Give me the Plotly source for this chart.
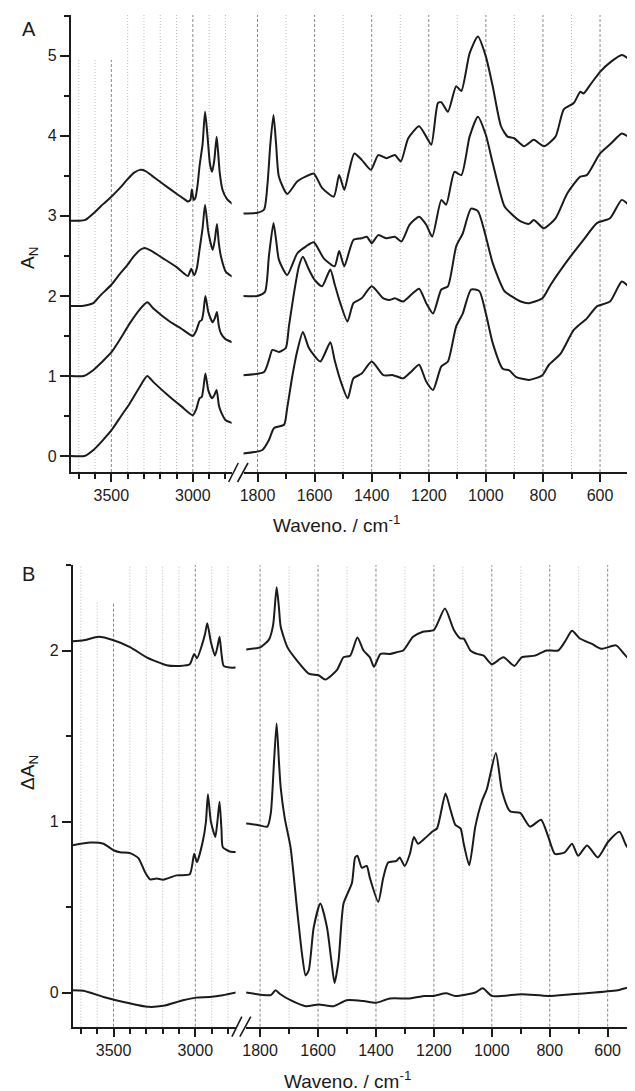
import plotly.graph_objects as go

# ---------------- DATA ----------------
# Panel A, high-wavenumber segment
A1_L_WN = [3750, 3700, 3660, 3600, 3549, 3500, 3447, 3400, 3360, 3325, 3290, 3250, 3203, 3150, 3102, 3060, 3030, 3015, 3006, 2995, 2985, 2970, 2959, 2940, 2925, 2910, 2895, 2882, 2868, 2854, 2845, 2835, 2817, 2790, 2757]
A1_L = [2.94, 2.94, 2.95, 3.05, 3.15, 3.24, 3.35, 3.46, 3.54, 3.575, 3.56, 3.50, 3.43, 3.35, 3.28, 3.22, 3.18, 3.20, 3.33, 3.20, 3.22, 3.40, 3.62, 3.90, 4.30, 4.00, 3.65, 3.55, 3.70, 3.99, 3.80, 3.54, 3.32, 3.21, 3.15]

A2_L_WN = [3750, 3680, 3640, 3610, 3570, 3500, 3450, 3408, 3360, 3320, 3295, 3260, 3183, 3100, 3030, 3010, 2992, 2975, 2959, 2940, 2925, 2905, 2878, 2865, 2852, 2840, 2827, 2797, 2757]
A2_L = [1.875, 1.875, 1.89, 1.91, 2.00, 2.14, 2.27, 2.37, 2.50, 2.58, 2.60, 2.57, 2.47, 2.36, 2.25, 2.34, 2.26, 2.35, 2.575, 2.85, 3.14, 2.80, 2.575, 2.70, 2.90, 2.65, 2.49, 2.30, 2.24]

A3_L_WN = [3750, 3670, 3610, 3560, 3498, 3440, 3386, 3330, 3280, 3240, 3142, 3070, 3000, 2980, 2959, 2945, 2935, 2923, 2905, 2878, 2865, 2852, 2840, 2827, 2800, 2757]
A3_L = [1.00, 1.00, 1.075, 1.17, 1.30, 1.48, 1.66, 1.82, 1.92, 1.84, 1.68, 1.59, 1.50, 1.56, 1.68, 1.70, 1.80, 2.00, 1.80, 1.67, 1.72, 1.80, 1.62, 1.53, 1.46, 1.42]

A4_L_WN = [3750, 3665, 3610, 3560, 3498, 3440, 3386, 3330, 3280, 3240, 3142, 3070, 3000, 2980, 2959, 2945, 2935, 2923, 2905, 2882, 2868, 2854, 2840, 2827, 2800, 2757]
A4_L = [0.00, 0.00, 0.075, 0.18, 0.325, 0.50, 0.66, 0.85, 1.00, 0.92, 0.74, 0.62, 0.51, 0.58, 0.72, 0.74, 0.85, 1.03, 0.82, 0.72, 0.76, 0.825, 0.63, 0.55, 0.45, 0.41]

# Panel A, fingerprint segment
A1_R_WN = [1852, 1800, 1777, 1765, 1755, 1744, 1735, 1725, 1696, 1661, 1632, 1603, 1574, 1533, 1514, 1496, 1480, 1461, 1435, 1403, 1377, 1348, 1319, 1298, 1272, 1234, 1209, 1191, 1168, 1156, 1133, 1104, 1086, 1057, 1028, 1000, 976, 947, 924, 901, 866, 832, 797, 756, 727, 692, 669, 658, 634, 600, 560, 524, 507, 501]
A1_R = [3.03, 3.04, 3.08, 3.40, 3.90, 4.26, 3.90, 3.49, 3.275, 3.43, 3.49, 3.53, 3.35, 3.24, 3.51, 3.325, 3.55, 3.78, 3.70, 3.575, 3.76, 3.72, 3.76, 3.68, 3.97, 4.12, 3.99, 3.89, 4.41, 4.42, 4.30, 4.62, 4.56, 5.03, 5.24, 4.99, 4.62, 4.12, 3.99, 3.97, 3.87, 3.95, 3.87, 3.99, 4.33, 4.41, 4.55, 4.53, 4.64, 4.80, 4.93, 5.01, 4.98, 4.96]

A2_R_WN = [1852, 1800, 1774, 1760, 1744, 1735, 1725, 1696, 1661, 1630, 1603, 1568, 1530, 1514, 1496, 1464, 1435, 1417, 1400, 1377, 1348, 1319, 1296, 1267, 1234, 1209, 1188, 1156, 1139, 1110, 1086, 1057, 1028, 1000, 976, 935, 912, 878, 849, 832, 797, 756, 715, 669, 646, 600, 560, 524, 501]
A2_R = [2.00, 2.00, 2.05, 2.50, 2.91, 2.70, 2.45, 2.26, 2.53, 2.62, 2.67, 2.47, 2.37, 2.56, 2.37, 2.70, 2.72, 2.74, 2.66, 2.76, 2.72, 2.74, 2.68, 2.89, 2.99, 2.89, 2.74, 3.20, 3.14, 3.55, 3.51, 3.99, 4.24, 4.01, 3.66, 3.12, 3.03, 2.93, 2.90, 2.95, 2.845, 2.97, 3.28, 3.49, 3.51, 3.78, 3.91, 4.03, 3.99]

A3_R_WN = [1852, 1777, 1760, 1748, 1725, 1701, 1690, 1672, 1655, 1641, 1620, 1600, 1574, 1545, 1530, 1510, 1485, 1464, 1435, 1400, 1359, 1336, 1319, 1290, 1260, 1234, 1209, 1185, 1156, 1133, 1104, 1081, 1052, 1028, 1000, 976, 935, 912, 878, 849, 802, 773, 704, 658, 611, 565, 524, 501]
A3_R = [1.01, 1.05, 1.20, 1.325, 1.30, 1.35, 1.62, 2.04, 2.37, 2.49, 2.33, 2.20, 2.12, 2.33, 2.15, 1.91, 1.68, 1.91, 1.97, 2.12, 1.97, 1.95, 1.97, 1.93, 2.02, 2.09, 1.91, 1.78, 2.08, 2.12, 2.62, 2.78, 3.09, 3.06, 2.74, 2.41, 2.06, 2.00, 1.93, 1.91, 1.97, 2.14, 2.49, 2.70, 2.91, 2.97, 3.20, 3.14]

A4_R_WN = [1852, 1783, 1760, 1742, 1707, 1696, 1678, 1661, 1641, 1620, 1580, 1545, 1530, 1510, 1484, 1464, 1435, 1400, 1359, 1325, 1290, 1260, 1234, 1209, 1185, 1156, 1133, 1104, 1081, 1052, 1023, 1000, 976, 941, 918, 895, 849, 802, 779, 738, 692, 646, 611, 565, 524, 501]
A4_R = [0.03, 0.075, 0.20, 0.35, 0.39, 0.60, 1.00, 1.31, 1.55, 1.35, 1.18, 1.42, 1.20, 0.95, 0.72, 0.97, 1.03, 1.18, 1.01, 1.01, 0.97, 1.06, 1.14, 0.93, 0.825, 1.12, 1.18, 1.62, 1.78, 2.08, 2.06, 1.78, 1.41, 1.09, 1.07, 0.99, 0.95, 1.01, 1.14, 1.28, 1.575, 1.72, 1.87, 1.93, 2.18, 2.12]

# Panel B, high-wavenumber segment
B1_L_WN = [3750, 3682, 3591, 3500, 3399, 3298, 3176, 3095, 3034, 3007, 2990, 2957, 2940, 2927, 2905, 2880, 2865, 2852, 2840, 2827, 2790, 2751]
B1_L = [2.054, 2.06, 2.08, 2.06, 2.02, 1.96, 1.914, 1.91, 1.92, 1.98, 1.955, 2.04, 2.10, 2.16, 2.05, 1.97, 2.02, 2.08, 1.98, 1.91, 1.90, 1.90]

B2_L_WN = [3750, 3642, 3561, 3500, 3460, 3399, 3348, 3308, 3277, 3237, 3196, 3115, 3034, 3007, 2990, 2953, 2935, 2923, 2905, 2878, 2865, 2852, 2840, 2832, 2790, 2751]
B2_L = [0.861, 0.877, 0.87, 0.832, 0.82, 0.815, 0.786, 0.705, 0.662, 0.666, 0.66, 0.685, 0.691, 0.811, 0.762, 0.89, 1.00, 1.16, 1.00, 0.91, 1.00, 1.115, 0.95, 0.85, 0.825, 0.822]

B3_L_WN = [3750, 3683, 3561, 3439, 3287, 3196, 3075, 2994, 2913, 2832, 2751]
B3_L = [0.013, 0.01, -0.026, -0.055, -0.084, -0.078, -0.045, -0.03, -0.026, -0.016, 0.0]

# Panel B, fingerprint segment
B1_R_WN = [1849, 1798, 1769, 1755, 1743, 1735, 1729, 1706, 1672, 1632, 1598, 1575, 1535, 1512, 1489, 1464, 1443, 1421, 1407, 1384, 1352, 1329, 1306, 1272, 1238, 1200, 1162, 1131, 1108, 1097, 1074, 1051, 1028, 1000, 960, 922, 897, 851, 811, 771, 748, 723, 696, 656, 622, 571, 548, 525, 502]
B1_R = [2.006, 2.02, 2.065, 2.15, 2.37, 2.25, 2.14, 2.02, 1.94, 1.865, 1.855, 1.83, 1.885, 1.96, 1.97, 2.076, 2.00, 1.96, 1.905, 1.98, 1.98, 1.99, 2.00, 2.08, 2.11, 2.12, 2.245, 2.12, 2.07, 2.07, 2.00, 1.98, 1.97, 1.92, 1.96, 1.91, 1.96, 1.97, 2.00, 2.00, 2.05, 2.115, 2.07, 2.04, 2.01, 2.03, 1.99, 1.95, 1.97]

B2_R_WN = [1849, 1809, 1775, 1763, 1752, 1743, 1735, 1729, 1715, 1695, 1672, 1655, 1643, 1632, 1615, 1592, 1569, 1555, 1543, 1529, 1512, 1483, 1472, 1464, 1449, 1432, 1421, 1392, 1375, 1358, 1329, 1318, 1301, 1283, 1269, 1255, 1232, 1206, 1189, 1160, 1143, 1126, 1108, 1097, 1078, 1057, 1034, 1017, 986, 965, 937, 902, 868, 830, 805, 782, 748, 723, 702, 671, 634, 599, 559, 536, 519, 502]
B2_R = [0.988, 0.98, 0.97, 1.05, 1.35, 1.573, 1.35, 1.20, 1.02, 0.85, 0.48, 0.22, 0.10, 0.13, 0.38, 0.52, 0.38, 0.20, 0.056, 0.19, 0.52, 0.64, 0.79, 0.80, 0.73, 0.74, 0.67, 0.53, 0.67, 0.76, 0.77, 0.79, 0.74, 0.81, 0.91, 0.87, 0.90, 0.94, 0.96, 1.164, 1.07, 0.98, 0.96, 0.87, 0.744, 0.97, 1.12, 1.19, 1.40, 1.18, 1.06, 1.05, 0.97, 1.01, 0.91, 0.81, 0.82, 0.87, 0.80, 0.86, 0.79, 0.88, 0.94, 0.86, 0.83, 0.84]

B3_R_WN = [1849, 1763, 1747, 1730, 1695, 1643, 1598, 1546, 1501, 1443, 1400, 1352, 1283, 1232, 1200, 1158, 1126, 1057, 1031, 1000, 897, 805, 725, 645, 560, 525, 508]
B3_R = [0.0, -0.015, 0.013, -0.01, -0.045, -0.08, -0.07, -0.08, -0.045, -0.05, -0.06, -0.035, -0.035, -0.02, -0.02, -0.005, -0.02, 0.0, 0.025, -0.02, -0.01, -0.02, -0.01, 0.0, 0.015, 0.03, -0.005]

# Tick / grid positions
LEFT_MAJOR = [3500, 3000]
RIGHT_MAJOR = [1800, 1600, 1400, 1200, 1000, 800, 600]
LEFT_GRID = [3700, 3600, 3500, 3400, 3300, 3200, 3100, 3000, 2900, 2800]
RIGHT_GRID = [1800, 1700, 1600, 1500, 1400, 1300, 1200, 1100, 1000, 900, 800, 700, 600]
A_YTICKS = [0, 1, 2, 3, 4, 5]
B_YTICKS = [0, 1, 2]

# ---------------- FIGURE ----------------
W, H = 635, 1091
OFF = 8  # page body margin of the browser

def PX(x):
    return (x - OFF) / W

def PY(y):
    return 1 - (y - OFF) / H

INK = "#1b1b1b"
FONT = "Liberation Sans, Arial, Helvetica, sans-serif"
line = dict(color=INK, width=2.0, shape="spline", smoothing=0.6)

fig = go.Figure()
series = [
    (A1_L_WN, A1_L, "x", "y"), (A2_L_WN, A2_L, "x", "y"), (A3_L_WN, A3_L, "x", "y"), (A4_L_WN, A4_L, "x", "y"),
    (A1_R_WN, A1_R, "x2", "y"), (A2_R_WN, A2_R, "x2", "y"), (A3_R_WN, A3_R, "x2", "y"), (A4_R_WN, A4_R, "x2", "y"),
    (B1_L_WN, B1_L, "x3", "y2"), (B2_L_WN, B2_L, "x3", "y2"), (B3_L_WN, B3_L, "x3", "y2"),
    (B1_R_WN, B1_R, "x4", "y2"), (B2_R_WN, B2_R, "x4", "y2"), (B3_R_WN, B3_R, "x4", "y2"),
]
for wn, v, xa, ya in series:
    fig.add_trace(go.Scatter(x=wn, y=v, xaxis=xa, yaxis=ya, mode="lines", line=line, hoverinfo="skip"))

tickfont = dict(family=FONT, size=16, color=INK)


def xax(domain, rng, tickvals, anchor):
    return dict(domain=domain, range=rng, anchor=anchor, tickvals=tickvals,
                showline=True, linecolor=INK, linewidth=1.6, ticks="outside", ticklen=8,
                tickwidth=1.5, tickcolor=INK, showgrid=False, zeroline=False, tickfont=tickfont,
                minor=dict(ticks="outside", ticklen=5, tickwidth=1.5, tickcolor=INK, dtick=100, tick0=0, showgrid=False),
                fixedrange=True)


def yax(domain, rng, tickvals, anchor):
    return dict(domain=domain, range=rng, anchor=anchor, tickvals=tickvals,
                showline=True, linecolor=INK, linewidth=1.6, ticks="outside", ticklen=9,
                tickwidth=1.5, tickcolor=INK, showgrid=False, zeroline=False, tickfont=tickfont,
                minor=dict(ticks="outside", ticklen=5, tickwidth=1.5, tickcolor=INK, dtick=0.5, tick0=0, showgrid=False),
                fixedrange=True)


fig.update_layout(
    width=W, height=H, margin=dict(l=0, r=0, t=0, b=0),
    paper_bgcolor="white", plot_bgcolor="white", showlegend=False,
    xaxis=xax([PX(67), PX(229)], [3750, 2762], LEFT_MAJOR, "y"),
    xaxis2=xax([PX(241), PX(628.5)], [1849, 500], RIGHT_MAJOR, "y"),
    xaxis3=xax([PX(69), PX(233)], [3750, 2754], LEFT_MAJOR, "y2"),
    xaxis4=xax([PX(243.7), PX(636)], [1848, 502], RIGHT_MAJOR, "y2"),
    yaxis=yax([PY(472), PY(15)], [-0.2, 5.51], A_YTICKS, "x"),
    yaxis2=yax([PY(1026.7), PY(565)], [-0.2, 2.5], B_YTICKS, "x3"),
)

shapes = []


def grid(xref, yref, vals, majors, y0, ytop, short=None, short_top=None):
    for w in vals:
        major = w in majors
        top = short_top if (short and w in short) else ytop
        shapes.append(dict(type="line", xref=xref, yref=yref, x0=w, x1=w, y0=y0, y1=top, layer="below",
                           line=dict(color="#8a8a8a" if major else "#bdbdbd", width=1,
                                     dash="3px,2px" if major else "1px,2px")))


grid("x", "y", LEFT_GRID, LEFT_MAJOR, -0.2, 5.51, short=[3700, 3600, 3500], short_top=4.95)
grid("x2", "y", RIGHT_GRID, RIGHT_MAJOR, -0.2, 5.51)
grid("x3", "y2", LEFT_GRID, LEFT_MAJOR, -0.2, 2.5, short=[3600, 3500], short_top=2.28)
grid("x4", "y2", RIGHT_GRID, RIGHT_MAJOR, -0.2, 2.5)

# axis-break marks "//"
for (x0, y0, x1, y1) in [(226, 482, 235.7, 463), (235, 482, 245.5, 463),
                         (229.3, 1036.7, 239.3, 1016.7), (237.3, 1036.7, 248.3, 1016.7)]:
    shapes.append(dict(type="line", xref="paper", yref="paper", x0=PX(x0), y0=PY(y0), x1=PX(x1), y1=PY(y1),
                       line=dict(color=INK, width=1.6)))
fig.update_layout(shapes=shapes)

ann = []


def label(text, x, y, size, angle=0):
    ann.append(dict(text=text, x=PX(x), y=PY(y), xref="paper", yref="paper", showarrow=False,
                    xanchor="center", yanchor="middle", textangle=angle,
                    font=dict(family=FONT, size=size, color=INK)))


label("A", 25, 29, 20)
label("B", 25, 574, 20)
label("A<sub>N</sub>", 25, 258, 19, -90)
label("ΔA<sub>N</sub>", 25, 772, 19, -90)
label("Waveno. / cm<sup>-1</sup>", 335, 524, 19)
label("Waveno. / cm<sup>-1</sup>", 346, 1080, 19)
fig.update_layout(annotations=ann)

fig.write_html("out.html")
